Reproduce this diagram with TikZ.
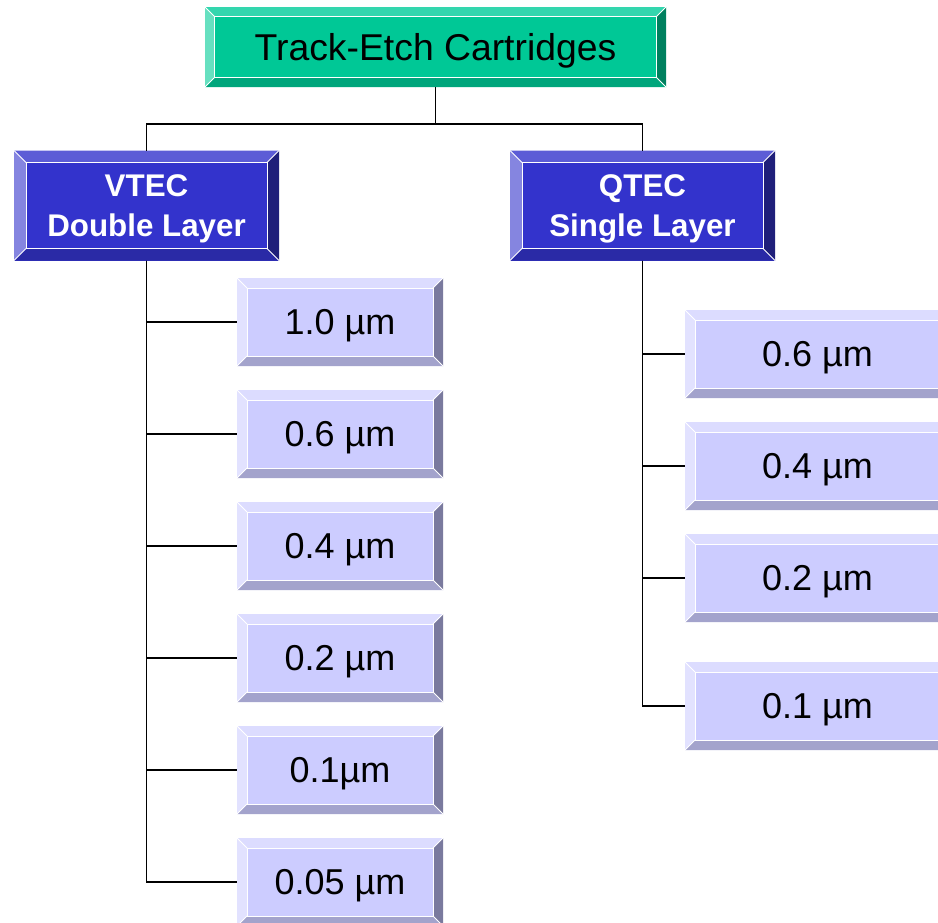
\documentclass[tikz,border=0pt]{standalone}
\usepackage{fontspec}
\setmainfont{Liberation Sans}
\usetikzlibrary{calc}

\definecolor{cartface}{HTML}{00C896}
\definecolor{carttop}{HTML}{33D6AE}
\definecolor{cartleft}{HTML}{66E0C0}
\definecolor{cartright}{HTML}{00805F}
\definecolor{cartbottom}{HTML}{00A67C}
\definecolor{layerface}{HTML}{3333CC}
\definecolor{layertop}{HTML}{5C5CD6}
\definecolor{layerleft}{HTML}{8585E0}
\definecolor{layerright}{HTML}{1F1F7A}
\definecolor{layerbottom}{HTML}{2A2AA6}
\definecolor{sizeface}{HTML}{CCCCFF}
\definecolor{sizetop}{HTML}{DCDCFF}
\definecolor{sizeleft}{HTML}{E2E2FF}
\definecolor{sizeright}{HTML}{7A7A9E}
\definecolor{sizebottom}{HTML}{A3A3CC}

\tikzset{
  box/.style={inner sep=0pt, outer sep=0pt, align=center, text depth=0pt},
  headbox/.style={box, fill=cartface, minimum width=345.75pt, minimum height=60pt, font=\fontsize{28}{32}\selectfont},
  layerbox/.style={box, fill=layerface, text=white, minimum width=198.75pt, minimum height=82.5pt, font=\fontsize{23.5}{30}\selectfont\bfseries},
  sizebox/.style={box, fill=sizeface, minimum height=66pt, font=\fontsize{27}{30}\selectfont},
  link/.style={black, line width=1.3pt}
}

% #1 node, #2 depth, #3 top, #4 left, #5 right, #6 bottom
\newcommand{\bevel}[6]{%
  \fill[#3] (#1.north west) -- (#1.north east) -- ([xshift=-#2,yshift=-#2]#1.north east) -- ([xshift=#2,yshift=-#2]#1.north west) -- cycle;
  \fill[#4] (#1.north west) -- ([xshift=#2,yshift=-#2]#1.north west) -- ([xshift=#2,yshift=#2]#1.south west) -- (#1.south west) -- cycle;
  \fill[#5] (#1.north east) -- ([xshift=-#2,yshift=-#2]#1.north east) -- ([xshift=-#2,yshift=#2]#1.south east) -- (#1.south east) -- cycle;
  \fill[#6] (#1.south west) -- ([xshift=#2,yshift=#2]#1.south west) -- ([xshift=-#2,yshift=#2]#1.south east) -- (#1.south east) -- cycle;
  \draw[white, line width=0.7pt] ([xshift=#2,yshift=-#2]#1.north west) rectangle ([xshift=-#2,yshift=#2]#1.south east);
  \draw[white, line width=0.7pt] (#1.north west) -- ([xshift=#2,yshift=-#2]#1.north west)
    (#1.north east) -- ([xshift=-#2,yshift=-#2]#1.north east)
    (#1.south west) -- ([xshift=#2,yshift=#2]#1.south west)
    (#1.south east) -- ([xshift=-#2,yshift=#2]#1.south east);
}

\begin{document}
\begin{tikzpicture}[x=0.75pt, y=-0.75pt]
  \useasboundingbox (0,0) rectangle (938,922);
  \clip (0,0) rectangle (938,922);

  % heading
  \node[headbox] (cart) at (435.5,47) {Track-Etch Cartridges};
  \bevel{cart}{7pt}{carttop}{cartleft}{cartright}{cartbottom}

  % the two layers
  \node[layerbox] (vtec) at (146.5,205.5) {VTEC\\Double Layer};
  \bevel{vtec}{9pt}{layertop}{layerleft}{layerright}{layerbottom}
  \node[layerbox] (qtec) at (642.5,205.5) {QTEC\\Single Layer};
  \bevel{qtec}{9pt}{layertop}{layerleft}{layerright}{layerbottom}

  % pore sizes, double layer
  \node[sizebox, minimum width=154.5pt] (v1) at (340,322) {1.0 µm};
  \node[sizebox, minimum width=154.5pt] (v2) at (340,434) {0.6 µm};
  \node[sizebox, minimum width=154.5pt] (v3) at (340,546) {0.4 µm};
  \node[sizebox, minimum width=154.5pt] (v4) at (340,658) {0.2 µm};
  \node[sizebox, minimum width=154.5pt] (v5) at (340,770) {0.1µm};
  \node[sizebox, minimum width=154.5pt] (v6) at (340,882) {0.05 µm};
  \bevel{v1}{7.5pt}{sizetop}{sizeleft}{sizeright}{sizebottom}
  \bevel{v2}{7.5pt}{sizetop}{sizeleft}{sizeright}{sizebottom}
  \bevel{v3}{7.5pt}{sizetop}{sizeleft}{sizeright}{sizebottom}
  \bevel{v4}{7.5pt}{sizetop}{sizeleft}{sizeright}{sizebottom}
  \bevel{v5}{7.5pt}{sizetop}{sizeleft}{sizeright}{sizebottom}
  \bevel{v6}{7.5pt}{sizetop}{sizeleft}{sizeright}{sizebottom}

  % pore sizes, single layer
  \node[sizebox, minimum width=198.75pt] (q1) at (817.5,354) {0.6 µm};
  \node[sizebox, minimum width=198.75pt] (q2) at (817.5,466) {0.4 µm};
  \node[sizebox, minimum width=198.75pt] (q3) at (817.5,578) {0.2 µm};
  \node[sizebox, minimum width=198.75pt] (q4) at (817.5,706) {0.1 µm};
  \bevel{q1}{7.5pt}{sizetop}{sizeleft}{sizeright}{sizebottom}
  \bevel{q2}{7.5pt}{sizetop}{sizeleft}{sizeright}{sizebottom}
  \bevel{q3}{7.5pt}{sizetop}{sizeleft}{sizeright}{sizebottom}
  \bevel{q4}{7.5pt}{sizetop}{sizeleft}{sizeright}{sizebottom}

  % connectors
  \draw[link] (cart.south) -- ++(0,37) coordinate (split);
  \draw[link] (vtec.north) |- (split) -| (qtec.north);
  \draw[link] (vtec.south) |- (v1.west);
  \draw[link] (vtec.south) |- (v2.west);
  \draw[link] (vtec.south) |- (v3.west);
  \draw[link] (vtec.south) |- (v4.west);
  \draw[link] (vtec.south) |- (v5.west);
  \draw[link] (vtec.south) |- (v6.west);
  \draw[link] (qtec.south) |- (q1.west);
  \draw[link] (qtec.south) |- (q2.west);
  \draw[link] (qtec.south) |- (q3.west);
  \draw[link] (qtec.south) |- (q4.west);
\end{tikzpicture}
\end{document}
